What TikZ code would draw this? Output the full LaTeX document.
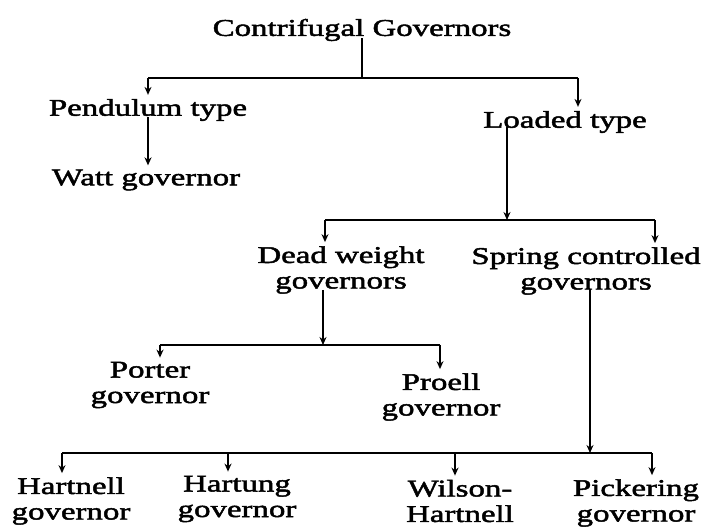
\documentclass[tikz,border=0pt]{standalone}
\usepackage{fontspec}
\setmainfont{Liberation Serif}[FakeStretch=1.37,FakeBold=2]
\usetikzlibrary{arrows.meta}
\begin{document}
\begin{tikzpicture}[x=1pt,y=-1pt,
  lab/.style={inner sep=0pt,align=center,font=\fontsize{24}{25.5}\selectfont},
  ln/.style={line width=2.2pt,black},
  tip/.style={-{Stealth[length=8pt,width=7pt]}},
  arr/.style={ln,tip,shorten >=4pt}]
\useasboundingbox (0,0) rectangle (702,529);
\node[lab] (title) at (362,30) {Contrifugal Governors};
\node[lab] (pend) at (148,110) {Pendulum type};
\node[lab] (load) at (565,122) {Loaded type};
\node[lab] (watt) at (146,180) {Watt governor};
\node[lab] (dead) at (341,270) {Dead weight\\governors};
\node[lab] (spring) at (586,271) {Spring controlled\\governors};
\node[lab] (porter) at (150,385) {Porter\\governor};
\node[lab] (proell) at (441,397) {Proell\\governor};
\node[lab] (hartnell) at (71,501) {Hartnell\\governor};
\node[lab] (hartung) at (237,499) {Hartung\\governor};
\node[lab] (wilson) at (460,501) {Wilson-\\Hartnell};
\node[lab] (picker) at (636,503) {Pickering\\governor};
% level 1
\coordinate (b1) at (362,78);
\coordinate (b1L) at (148,78);
\coordinate (b1R) at (578,78);
\draw[ln] ([yshift=3pt]title.south) -- (b1);
\draw[ln] (b1L) -- (b1R);
\draw[arr] (b1L) -- (b1L |- pend.north);
\draw[arr] (b1R) -- (b1R |- load.north);
\draw[arr] ([yshift=4pt]pend.south) -- (pend.south |- watt.north);
% level 2
\coordinate (c1) at (507,220);
\coordinate (c1L) at (325,220);
\coordinate (c1R) at (655,220);
\draw[ln,tip] ([yshift=6pt]load.south -| c1) -- (c1);
\draw[ln] (c1L) -- (c1R);
\draw[arr] (c1L) -- (c1L |- dead.north);
\draw[arr] (c1R) -- (c1R |- spring.north);
% level 3
\coordinate (d1) at (323,345);
\coordinate (d1L) at (160,345);
\coordinate (d1R) at (440,345);
\draw[ln,tip] ([yshift=4pt]dead.south -| d1) -- (d1);
\draw[ln] (d1L) -- (d1R);
\draw[arr] (d1L) -- (d1L |- porter.north);
\draw[arr] (d1R) -- (d1R |- proell.north);
% level 4
\coordinate (e1) at (590,453);
\coordinate (e1L) at (62,453);
\coordinate (e1R) at (652,453);
\coordinate (e1a) at (228,453);
\coordinate (e1b) at (455,453);
\draw[ln,tip] ([yshift=6pt]spring.south -| e1) -- (e1);
\draw[ln] (e1L) -- (e1R);
\draw[arr] (e1L) -- (e1L |- hartnell.north);
\draw[arr] (e1a) -- (e1a |- hartung.north);
\draw[arr] (e1b) -- (e1b |- wilson.north);
\draw[arr] (e1R) -- (e1R |- picker.north);
\end{tikzpicture}
\end{document}
